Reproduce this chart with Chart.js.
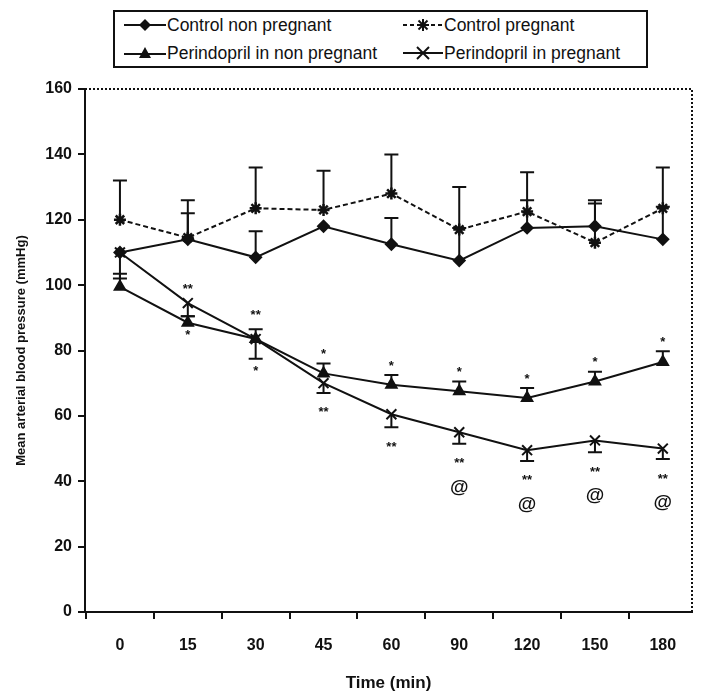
<!DOCTYPE html>
<html>
<head>
<meta charset="utf-8">
<script src="https://cdn.jsdelivr.net/npm/chart.js@4.4.1/dist/chart.umd.min.js"></script>
<style>
html,body{margin:0;padding:0;background:#fff;}
#wrap{position:relative;width:705px;height:696px;}
#c{position:absolute;left:0;top:0;}
#legend{position:absolute;left:113px;top:10px;width:535px;height:58px;border:2px solid #111;box-sizing:border-box;
  font-family:"Liberation Sans",Arial,sans-serif;font-size:17.5px;color:#111;background:#fff;}
.item{position:absolute;display:flex;align-items:center;height:20px;white-space:nowrap;}
.item svg{display:block;margin-right:1px;}
</style>
</head>
<body>
<div id="wrap">
<canvas id="c" width="705" height="696"></canvas>
<div id="legend">
  <div class="item" style="left:9px;top:3px;">
    <svg width="42" height="16"><line x1="0" y1="8" x2="42" y2="8" stroke="#111" stroke-width="2"/><polygon points="21,2 27,8 21,14 15,8" fill="#111"/></svg>
    <span>Control non pregnant</span></div>
  <div class="item" style="left:288px;top:3px;">
    <svg width="40" height="16"><line x1="0" y1="8" x2="40" y2="8" stroke="#111" stroke-width="2" stroke-dasharray="4,3"/>
      <g stroke="#111" stroke-width="2"><line x1="20" y1="2" x2="20" y2="14"/><line x1="14" y1="8" x2="26" y2="8"/><line x1="15.5" y1="3.5" x2="24.5" y2="12.5"/><line x1="24.5" y1="3.5" x2="15.5" y2="12.5"/></g></svg>
    <span>Control pregnant</span></div>
  <div class="item" style="left:9px;top:31px;">
    <svg width="42" height="16"><line x1="0" y1="9" x2="42" y2="9" stroke="#111" stroke-width="2"/><polygon points="21,2 27,13 15,13" fill="#111"/></svg>
    <span>Perindopril in non pregnant</span></div>
  <div class="item" style="left:288px;top:31px;">
    <svg width="40" height="16"><line x1="0" y1="8" x2="40" y2="8" stroke="#111" stroke-width="2"/>
      <g stroke="#111" stroke-width="2"><line x1="14" y1="2" x2="26" y2="14"/><line x1="26" y1="2" x2="14" y2="14"/></g></svg>
    <span>Perindopril in pregnant</span></div>
</div>
</div>
<script>
// ---- data ----
const timeLabels = ['0', '15', '30', '45', '60', '90', '120', '150', '180'];
const controlNonPregnant   = [110, 114, 108.5, 118, 112.5, 107.5, 117.5, 118, 114];
const controlNonPregnantUp = [0, 8, 8, 0, 8, 10, 8.5, 7, 10];
const controlPregnant      = [120, 114.5, 123.5, 123, 128, 117, 122.5, 113, 123.5];
const controlPregnantUp    = [12, 11.5, 12.5, 12, 12, 13, 12, 13, 12.5];
const perindoprilNonPreg   = [99.5, 88.5, 83.5, 73, 69.5, 67.5, 65.5, 70.5, 76.5];
const perindoprilNonPregUp = [4, 2, 3, 3, 3, 3, 3, 3, 3.3];
const perindoprilPreg      = [110, 94.5, 83.5, 70, 60.5, 55, 49.5, 52.5, 50];
const perindoprilPregDown  = [8, 4, 6, 3, 4, 3.5, 3.3, 3.6, 3.2];
// significance marks
const nonPregSig     = ['', '*', '*', '*', '*', '*', '*', '*', '*'];
const nonPregSigSide = ['', 'below', 'below', 'above', 'above', 'above', 'above', 'above', 'above'];
const pregSig        = ['', '**', '**', '**', '**', '**', '**', '**', '**'];
const pregSigSide    = ['', 'above', 'above', 'below', 'below', 'below', 'below', 'below', 'below'];
const pregVsNonPreg  = ['', '', '', '', '', '@', '@', '@', '@'];

const FONT = '"Liberation Sans", Arial, sans-serif';
const INK = '#111';
const toPts = arr => arr.map((v, i) => ({x: i, y: v}));
const zeros = timeLabels.map(() => 0);

const errorBars = {
  id: 'errorBars',
  beforeDatasetsDraw(chart) {
    const {ctx, scales: {x, y}} = chart;
    ctx.save();
    ctx.strokeStyle = INK; ctx.lineWidth = 2;
    chart.data.datasets.forEach(ds => {
      const up = ds.errUp || zeros, down = ds.errDown || zeros;
      ds.data.forEach((p, i) => {
        const px = x.getPixelForValue(p.x);
        [[up[i], 1], [down[i], -1]].forEach(([e, s]) => {
          if (!e) return;
          const y0 = y.getPixelForValue(p.y), y1 = y.getPixelForValue(p.y + s * e);
          ctx.beginPath(); ctx.moveTo(px, y0); ctx.lineTo(px, y1);
          ctx.moveTo(px - 7, y1); ctx.lineTo(px + 7, y1); ctx.stroke();
        });
      });
    });
    ctx.restore();
  }
};

const sigMarks = {
  id: 'sigMarks',
  afterDatasetsDraw(chart) {
    const {ctx, scales: {x, y}} = chart;
    ctx.save();
    ctx.fillStyle = INK; ctx.textAlign = 'center'; ctx.textBaseline = 'alphabetic';
    const draw = (txt, px, cy, size) => {
      ctx.font = 'bold ' + size + 'px ' + FONT;
      const m = ctx.measureText(txt);
      const h = m.actualBoundingBoxAscent + m.actualBoundingBoxDescent;
      ctx.fillText(txt, px, cy + h / 2 - m.actualBoundingBoxDescent);
    };
    timeLabels.forEach((t, i) => {
      const px = x.getPixelForValue(i);
      const top = Math.max(perindoprilNonPreg[i] + perindoprilNonPregUp[i], perindoprilPreg[i]);
      const bot = Math.min(perindoprilNonPreg[i], perindoprilPreg[i] - perindoprilPregDown[i]);
      const topPx = y.getPixelForValue(top), botPx = y.getPixelForValue(bot);
      if (nonPregSig[i]) {
        const cy = nonPregSigSide[i] === 'above' ? topPx - 12 : botPx + 10;
        draw(nonPregSig[i], px, cy, 13);
      }
      if (pregSig[i]) {
        const cy = pregSigSide[i] === 'above' ? topPx - 17 : botPx + 17;
        draw(pregSig[i], px, cy, 13);
      }
      if (pregVsNonPreg[i]) draw(pregVsNonPreg[i], px, botPx + 44, 19);
    });
    ctx.restore();
  }
};

const dottedFrame = {
  id: 'dottedFrame',
  afterDraw(chart) {
    const {ctx, chartArea: a} = chart;
    ctx.save();
    ctx.strokeStyle = INK; ctx.lineWidth = 2; ctx.setLineDash([2, 2]);
    ctx.beginPath(); ctx.moveTo(a.left, a.top); ctx.lineTo(a.right, a.top); ctx.lineTo(a.right, a.bottom); ctx.stroke();
    ctx.restore();
  }
};

const common = {borderColor: INK, backgroundColor: INK, borderWidth: 2, pointBorderColor: INK, pointBackgroundColor: INK, tension: 0};

new Chart(document.getElementById('c'), {
  type: 'line',
  data: {
    datasets: [
      Object.assign({}, common, {label: 'Control non pregnant', data: toPts(controlNonPregnant), errUp: controlNonPregnantUp,
        pointStyle: 'rectRot', pointRadius: 5.5}),
      Object.assign({}, common, {label: 'Control pregnant', data: toPts(controlPregnant), errUp: controlPregnantUp,
        borderDash: [5, 3], pointStyle: 'star', pointRadius: 6, pointBorderWidth: 2.5}),
      Object.assign({}, common, {label: 'Perindopril in non pregnant', data: toPts(perindoprilNonPreg), errUp: perindoprilNonPregUp,
        pointStyle: 'triangle', pointRadius: 6}),
      Object.assign({}, common, {label: 'Perindopril in pregnant', data: toPts(perindoprilPreg), errDown: perindoprilPregDown,
        pointStyle: 'crossRot', pointRadius: 7, pointBorderWidth: 2}),
    ]
  },
  options: {
    responsive: false, animation: false, devicePixelRatio: 1,
    layout: {padding: {top: 89, right: 13, bottom: 0, left: 0}},
    plugins: {legend: {display: false}, tooltip: {enabled: false}},
    scales: {
      x: {
        type: 'linear', min: -0.515, max: 8.43,
        afterBuildTicks: s => { s.ticks = timeLabels.map((t, i) => ({value: i})); },
        afterFit: s => { s.height = 84; },
        ticks: {callback: v => timeLabels[v], autoSkip: false, maxRotation: 0, color: INK, padding: 17,
          font: {family: FONT, size: 16, weight: 'bold'}},
        grid: {offset: true, drawOnChartArea: false, drawTicks: true, tickLength: 7, color: INK, lineWidth: 2},
        border: {display: true, color: INK, width: 2},
        title: {display: true, text: 'Time (min)', color: INK, padding: {top: 0, bottom: 2},
          font: {family: FONT, size: 17, weight: 'bold'}}
      },
      y: {
        min: 0, max: 160,
        afterFit: s => { s.width = 85; },
        ticks: {stepSize: 20, color: INK, padding: 6, font: {family: FONT, size: 16, weight: 'bold'}},
        grid: {drawOnChartArea: false, drawTicks: true, tickLength: 7, color: INK, lineWidth: 2},
        border: {display: true, color: INK, width: 2},
        title: {display: true, text: 'Mean arterial blood pressure (mmHg)', color: INK, padding: {top: 14, bottom: 0},
          font: {family: FONT, size: 13, weight: 'bold'}}
      }
    }
  },
  plugins: [errorBars, sigMarks, dottedFrame]
});
</script>
</body>
</html>
